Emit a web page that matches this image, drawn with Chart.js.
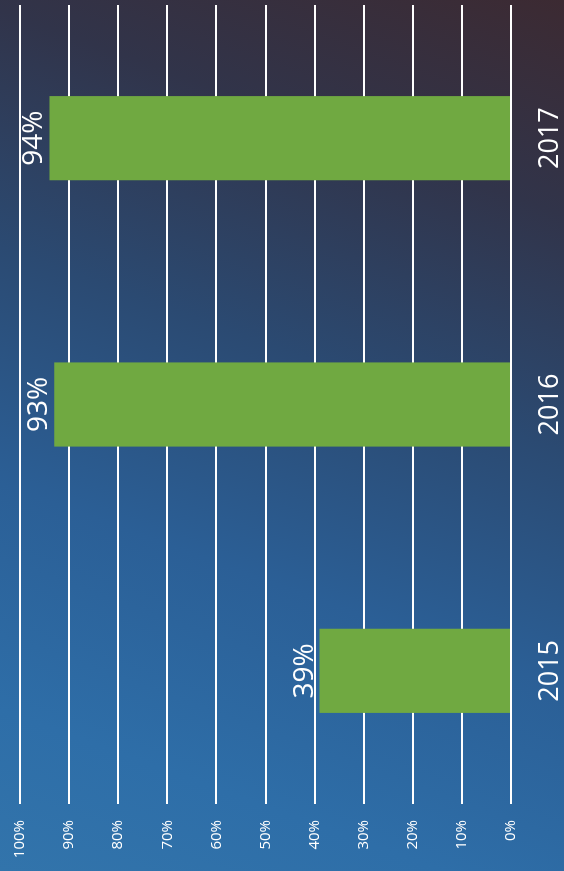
<!DOCTYPE html>
<html>
<head>
<meta charset="utf-8">
<script src="https://cdn.jsdelivr.net/npm/chart.js@4/dist/chart.umd.min.js"></script>
<style>
    html, body {
        margin: 0;
        padding: 0;
        width: 564px;
        height: 871px;
        overflow: hidden;
        background: linear-gradient(200deg, #3c2a32 0%, #31344a 20%, #2b4a72 42%, #2b5f96 64%, #2e6ea8 85%, #3274ab 100%);
    }
    /* the chart is drawn upright and turned a quarter turn to the left */
    #wrap {
        position: absolute;
        left: 0;
        top: 0;
        width: 871px;
        height: 564px;
        transform-origin: 0 0;
        transform: translateY(871px) rotate(-90deg);
    }
</style>
</head>
<body>
<div id="wrap"><canvas id="shareChart" width="871" height="564"></canvas></div>
<script>
    const years = ['2015', '2016', '2017'];
    const shares = [39, 93, 94];
    const percentTicks = [0, 10, 20, 30, 40, 50, 60, 70, 80, 90, 100];

    const ctx = document.getElementById('shareChart').getContext('2d');
    const labelFont = '"Open Sans", sans-serif';

    // draws the value above each bar
    const valueLabels = {
        id: 'valueLabels',
        afterDatasetsDraw(chart) {
            const c = chart.ctx;
            const meta = chart.getDatasetMeta(0);
            c.save();
            c.fillStyle = '#ffffff';
            c.font = '28px ' + labelFont;
            c.textAlign = 'center';
            c.textBaseline = 'alphabetic';
            meta.data.forEach((bar, i) => {
                c.fillText(shares[i] + '%', bar.x, bar.y - 7);
            });
            c.restore();
        }
    };

    new Chart(ctx, {
        type: 'bar',
        data: {
            labels: years,
            datasets: [{
                data: shares,
                backgroundColor: '#70a941',
                borderWidth: 0,
                barPercentage: 0.316,
                categoryPercentage: 1
            }]
        },
        options: {
            responsive: false,
            animation: false,
            layout: {
                padding: { top: 20, right: 5, left: 0, bottom: 0 }
            },
            scales: {
                x: {
                    grid: { display: false },
                    border: { display: false },
                    ticks: {
                        color: '#ffffff',
                        font: { family: labelFont, size: 27 },
                        padding: 15
                    },
                    afterFit: scale => { scale.height = 53; }
                },
                y: {
                    min: 0,
                    max: 100,
                    afterBuildTicks: scale => {
                        scale.ticks = percentTicks.map(v => ({ value: v }));
                    },
                    grid: {
                        color: '#ffffff',
                        lineWidth: 2,
                        drawTicks: false
                    },
                    border: { display: false },
                    ticks: {
                        color: '#ffffff',
                        font: { family: labelFont, size: 15 },
                        padding: 16,
                        callback: v => v + '%'
                    },
                    afterFit: scale => {
                        scale.width = 67;
                        scale.paddingTop = 0;   // top line sits at the very edge like the original
                        scale.paddingBottom = 0;
                    }
                }
            },
            plugins: {
                legend: { display: false },
                tooltip: { enabled: false }
            }
        },
        plugins: [valueLabels]
    });
</script>
</body>
</html>
